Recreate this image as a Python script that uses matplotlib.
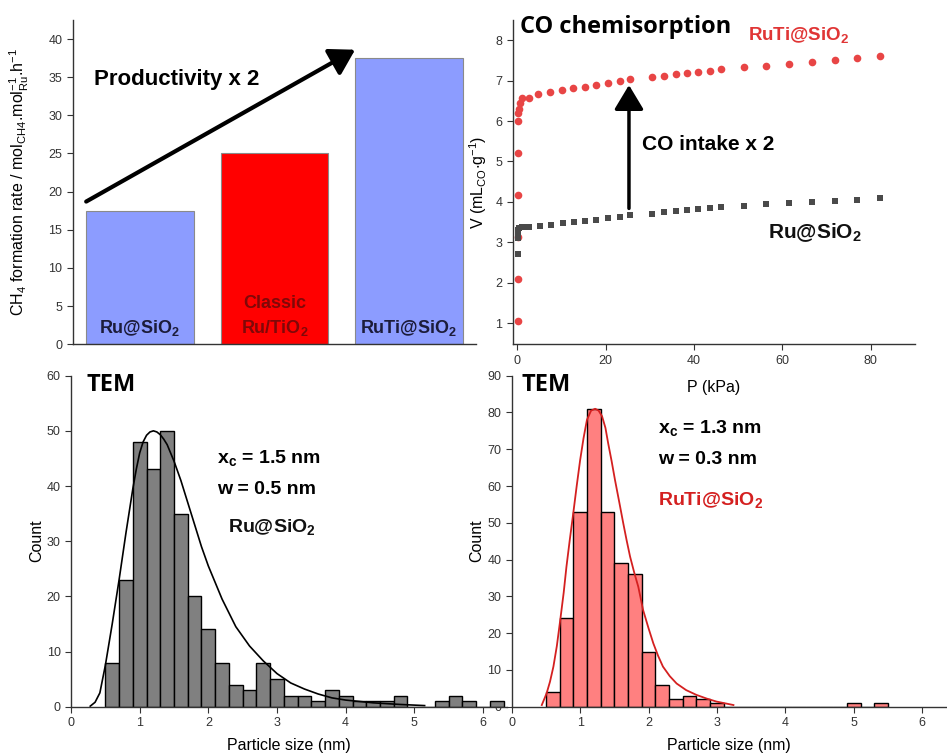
import matplotlib
matplotlib.use('Agg')
import matplotlib.pyplot as plt

plt.rcParams.update({
    'font.family': ['Liberation Sans', 'DejaVu Sans'],
    'font.size': 10,
    'mathtext.default': 'regular',
    'xtick.labelsize': 9,
    'ytick.labelsize': 9,
    'xtick.color': '#333333',
    'ytick.color': '#333333',
    'axes.edgecolor': '#333333',
    'axes.linewidth': 1.0,
})

# --- top left: CH4 formation rate ---
catalysts = ['Ru@SiO$_2$', 'Classic\nRu/TiO$_2$', 'RuTi@SiO$_2$']
rates = [17.5, 25.1, 37.5]
bar_colors = ['#8c9cff', '#ff0000', '#8c9cff']

# --- top right: CO chemisorption isotherms ---
p_ruti = [0.1, 0.1, 0.1, 0.1, 0.1, 0.15, 0.3, 0.45, 0.6, 1.0, 2.6, 4.8, 7.5, 10.2, 12.7,
          15.3, 17.9, 20.5, 23.2, 25.6, 30.6, 33.3, 35.9, 38.5, 41.0, 43.6, 46.2, 51.3,
          56.4, 61.5, 66.7, 71.8, 76.9, 82.1]
v_ruti = [1.05, 2.09, 3.14, 4.17, 5.2, 6.0, 6.19, 6.31, 6.44, 6.56, 6.58, 6.68, 6.72, 6.77,
          6.81, 6.85, 6.89, 6.95, 6.99, 7.03, 7.08, 7.12, 7.16, 7.19, 7.22, 7.25, 7.28,
          7.33, 7.37, 7.42, 7.46, 7.51, 7.56, 7.60]
p_ru = [0.1, 0.1, 0.15, 0.3, 0.5, 1.0, 1.7, 2.6, 5.1, 7.6, 10.3, 12.8, 15.4, 17.9, 20.5,
        23.2, 25.6, 30.6, 33.3, 35.9, 38.5, 41.0, 43.6, 46.2, 51.3, 56.4, 61.5, 66.7,
        71.8, 76.9, 82.1]
v_ru = [2.72, 3.1, 3.23, 3.31, 3.35, 3.37, 3.37, 3.38, 3.41, 3.43, 3.47, 3.5, 3.54, 3.56,
        3.6, 3.63, 3.67, 3.71, 3.75, 3.77, 3.79, 3.82, 3.84, 3.87, 3.9, 3.94, 3.98, 4.01,
        4.03, 4.06, 4.09]

# --- bottom left: TEM size histogram Ru@SiO2 ---
bins_ru = [0.5, 0.7, 0.9, 1.1, 1.3, 1.5, 1.7, 1.9, 2.1, 2.3, 2.5, 2.7, 2.9, 3.1, 3.3,
           3.5, 3.7, 3.9, 4.1, 4.3, 4.5, 4.7, 4.9, 5.1, 5.3, 5.5, 5.7, 5.9, 6.1]
counts_ru = [8, 23, 48, 43, 50, 35, 20, 14, 8, 4, 3, 8, 5, 2, 2,
             1, 3, 2, 1, 1, 1, 2, 0, 0, 1, 2, 1, 0, 1]
fit_x_ru = [0.28, 0.35, 0.42, 0.5, 0.6, 0.7, 0.8, 0.9, 0.95, 1.0, 1.05, 1.1, 1.15, 1.2,
            1.25, 1.3, 1.35, 1.4, 1.5, 1.6, 1.7, 1.8, 1.9, 2.0, 2.2, 2.4, 2.6, 2.8, 3.0,
            3.2, 3.4, 3.6, 3.8, 4.0, 4.4, 4.8, 5.15]
fit_y_ru = [0.1, 0.8, 2.5, 7.5, 15, 23, 31.5, 39.5, 43, 46, 48, 49.2, 49.8, 50,
            49.8, 49.3, 48.5, 47.5, 44.5, 41, 37, 33, 29, 25.5, 19.5, 14.5, 11, 8.3,
            6.0, 4.3, 3.2, 2.3, 1.6, 1.2, 0.7, 0.4, 0.2]

# --- bottom right: TEM size histogram RuTi@SiO2 ---
bins_ruti = [0.5, 0.7, 0.9, 1.1, 1.3, 1.5, 1.7, 1.9, 2.1, 2.3, 2.5, 2.7, 2.9, 3.1, 3.3,
             3.5, 3.7, 3.9, 4.1, 4.3, 4.5, 4.7, 4.9, 5.1, 5.3]
counts_ruti = [4, 24, 53, 81, 53, 39, 36, 15, 6, 2, 3, 2, 1, 0, 0,
               0, 0, 0, 0, 0, 0, 0, 1, 0, 1]
fit_x_ruti = [0.44, 0.51, 0.56, 0.61, 0.66, 0.71, 0.76, 0.8, 0.85, 0.9, 0.95, 1.0, 1.05,
              1.1, 1.16, 1.22, 1.27, 1.32, 1.37, 1.41, 1.46, 1.51, 1.57, 1.63, 1.68,
              1.73, 1.79, 1.85, 1.92, 2.0, 2.07, 2.14, 2.21, 2.31, 2.41, 2.55, 2.7,
              2.85, 2.99, 3.24]
fit_y_ruti = [0.45, 3.6, 6.8, 10.9, 16.5, 23.6, 31, 38, 45.5, 52.6, 60, 67, 73,
              78, 80.5, 81, 80.5, 79, 75.8, 71.6, 66.8, 61.6, 55.8, 49.9, 45.2,
              40.8, 36.5, 32.6, 26.3, 21.3, 17.2, 13.8, 10.9, 8.3, 6.3, 4.5, 3.2,
              2.2, 1.4, 0.45]

fig = plt.figure(figsize=(9.47, 7.53), dpi=100)

# top left panel
ax1 = fig.add_axes([0.0768, 0.5428, 0.426, 0.4307])
pos = range(len(rates))
ax1.bar(pos, rates, width=0.8, color=bar_colors, edgecolor='#8a8a8a', linewidth=0.8)
ax1.set_xlim(-0.5, 2.5)
ax1.set_ylim(0, 42.5)
ax1.set_yticks(range(0, 45, 5))
ax1.set_xticks([])
ax1.spines[['top', 'right']].set_visible(False)
ax1.tick_params(axis='y', direction='out', length=4)
ax1.set_ylabel('CH$_4$ formation rate / mol$_{CH4}$.mol$^{-1}_{Ru}$.h$^{-1}$', fontsize=11.5)
ax1.yaxis.set_label_coords(-0.104, 0.5)
ax1.text(0, 2.1, 'Ru@SiO$_2$', ha='center', va='center', fontsize=13,
         fontweight='bold', color='#1c1c3a')
ax1.text(1, 5.3, 'Classic', ha='center', va='center', fontsize=13,
         fontweight='bold', color='#800808')
ax1.text(1, 2.1, 'Ru/TiO$_2$', ha='center', va='center', fontsize=13,
         fontweight='bold', color='#800808')
ax1.text(2, 2.1, 'RuTi@SiO$_2$', ha='center', va='center', fontsize=13,
         fontweight='bold', color='#1c1c3a')
ax1.annotate('', xy=(1.6, 38.6), xytext=(-0.4, 18.7),
             arrowprops=dict(arrowstyle='-|>,head_length=0.5,head_width=0.3', lw=3,
                             color='black', mutation_scale=30, shrinkA=0, shrinkB=0))
ax1.text(-0.34, 34.7, 'Productivity x 2', ha='left', va='center', fontsize=16,
         fontweight='bold')

# top right panel
ax2 = fig.add_axes([0.5414, 0.5428, 0.4248, 0.4307])
ax2.plot(p_ruti, v_ruti, 'o', color='#e84545', markersize=5.5, markeredgewidth=0)
ax2.plot(p_ru, v_ru, 's', color='#4a4a4a', markersize=4.8, markeredgewidth=0)
ax2.set_xlim(-1, 90)
ax2.set_ylim(0.48, 8.5)
ax2.set_xticks([0, 20, 40, 60, 80])
ax2.set_yticks(range(1, 9))
ax2.spines[['top', 'right']].set_visible(False)
ax2.tick_params(direction='out', length=4)
ax2.set_xlabel('P (kPa)', fontsize=11.5)
ax2.xaxis.set_label_coords(0.5, -0.11)
ax2.set_ylabel('V (mL$_{CO}$$\\cdot$g$^{-1}$)', fontsize=11.5)
ax2.yaxis.set_label_coords(-0.06, 0.5)
ax2.text(0.6, 8.32, 'CO chemisorption', ha='left', va='center', fontsize=17,
         fontweight='bold', family=['Open Sans', 'DejaVu Sans'])
ax2.text(52.2, 8.12, 'RuTi@SiO$_2$', ha='left', va='center', fontsize=13.5,
         fontweight='bold', color='#e03535')
ax2.text(28.2, 5.43, 'CO intake x 2', ha='left', va='center', fontsize=15,
         fontweight='bold')
ax2.text(56.7, 3.23, 'Ru@SiO$_2$', ha='left', va='center', fontsize=15,
         fontweight='bold', color='#111111')
ax2.annotate('', xy=(25.3, 6.89), xytext=(25.3, 3.84),
             arrowprops=dict(arrowstyle='-|>,head_length=0.5,head_width=0.3', lw=2.5,
                             color='black', mutation_scale=30, shrinkA=0, shrinkB=0))

# bottom right panel (drawn first so the left histogram tail sits on top)
ax4 = fig.add_axes([0.5403, 0.0615, 0.4597, 0.4396])
ax4.patch.set_alpha(0)
ax4.bar(bins_ruti, counts_ruti, width=0.2, align='edge', color='#ff8080',
        edgecolor='black', linewidth=1.0)
ax4.plot(fit_x_ruti, fit_y_ruti, color='#d42020', lw=1.3)
ax4.set_xlim(0, 6.36)
ax4.set_ylim(0, 90)
ax4.set_yticks(range(0, 100, 10))
ax4.set_xticks(range(0, 7))
ax4.spines[['top', 'right']].set_visible(False)
ax4.tick_params(direction='out', length=4)
ax4.set_xlabel('Particle size (nm)', fontsize=11.5)
ax4.xaxis.set_label_coords(0.5, -0.095)
ax4.set_ylabel('Count', fontsize=11.5)
ax4.yaxis.set_label_coords(-0.062, 0.5)
ax4.text(0.15, 87.5, 'TEM', ha='left', va='center', fontsize=17, fontweight='bold',
         family=['Open Sans', 'DejaVu Sans'])
ax4.text(2.14, 75.8, 'x$_c$ = 1.3 nm', ha='left', va='center', fontsize=14, fontweight='bold')
ax4.text(2.14, 67.1, 'w = 0.3 nm', ha='left', va='center', fontsize=14, fontweight='bold')
ax4.text(2.14, 56.2, 'RuTi@SiO$_2$', ha='left', va='center', fontsize=14,
         fontweight='bold', color='#d42020')

# bottom left panel
ax3 = fig.add_axes([0.075, 0.0615, 0.4604, 0.4396])
ax3.patch.set_alpha(0)
ax3.bar(bins_ru, counts_ru, width=0.2, align='edge', color='#808080',
        edgecolor='black', linewidth=1.0)
ax3.plot(fit_x_ru, fit_y_ru, color='black', lw=1.2)
ax3.set_xlim(0, 6.35)
ax3.set_ylim(0, 60)
ax3.set_yticks(range(0, 70, 10))
ax3.set_xticks(range(0, 7))
ax3.spines[['top', 'right']].set_visible(False)
ax3.tick_params(direction='out', length=4)
ax3.set_xlabel('Particle size (nm)', fontsize=11.5)
ax3.xaxis.set_label_coords(0.5, -0.095)
ax3.set_ylabel('Count', fontsize=11.5)
ax3.yaxis.set_label_coords(-0.062, 0.5)
ax3.text(0.22, 58.3, 'TEM', ha='left', va='center', fontsize=17, fontweight='bold',
         family=['Open Sans', 'DejaVu Sans'])
ax3.text(2.13, 45.1, 'x$_c$ = 1.5 nm', ha='left', va='center', fontsize=14, fontweight='bold')
ax3.text(2.13, 39.3, 'w = 0.5 nm', ha='left', va='center', fontsize=14, fontweight='bold')
ax3.text(2.29, 32.6, 'Ru@SiO$_2$', ha='left', va='center', fontsize=14,
         fontweight='bold', color='#111111')

fig.savefig('out.png', dpi=100)
